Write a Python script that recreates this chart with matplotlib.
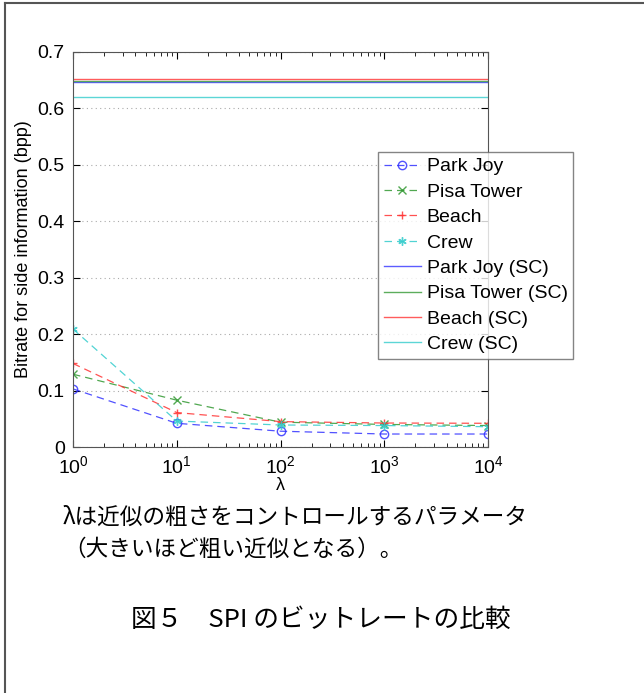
import matplotlib.pyplot as plt
from matplotlib.lines import Line2D

plt.rcParams['font.family'] = ['Liberation Sans', 'DejaVu Sans']

# dados
lam = [1, 10, 100, 1000, 10000]
park_joy = [0.103, 0.042, 0.028, 0.023, 0.023]
pisa_tower = [0.129, 0.083, 0.044, 0.040, 0.038]
beach = [0.148, 0.061, 0.045, 0.0425, 0.042]
crew = [0.209, 0.046, 0.039, 0.038, 0.036]

sc_names = ['Park Joy (SC)', 'Pisa Tower (SC)', 'Beach (SC)', 'Crew (SC)']
sc_values = [0.647, 0.648, 0.653, 0.621]

names = ['Park Joy', 'Pisa Tower', 'Beach', 'Crew']
series = [park_joy, pisa_tower, beach, crew]
colors = ['#3333ff', '#339933', '#ff3333', '#33cccc']
markers = ['o', 'x', '+', (6, 2, 0)]

yticks = [0, 0.1, 0.2, 0.3, 0.4, 0.5, 0.6, 0.7]

fig = plt.figure(figsize=(6.44, 6.93), dpi=100)
ax = fig.add_axes([73 / 644, 1 - 447 / 693, 415 / 644, 395 / 693])

for name, vals, c, m in zip(names, series, colors, markers):
    ax.plot(lam, vals, linestyle=(0, (6, 4)), color=c, marker=m, markersize=6,
            markerfacecolor='none', markeredgecolor=c, linewidth=0.9,
            alpha=0.85, label=name)

for name, v, c in zip(sc_names, sc_values, colors):
    ax.plot([lam[0], lam[-1]], [v, v], color=c, linewidth=1.0, alpha=0.8, label=name)

ax.set_xscale('log')
ax.set_xlim(1, 10000)
ax.set_ylim(0, 0.7)
ax.set_yticks(yticks)
ax.set_yticklabels(['0', '0.1', '0.2', '0.3', '0.4', '0.5', '0.6', '0.7'])
ax.yaxis.grid(True, linestyle=(0, (1, 3)), color='#aaaaaa', linewidth=0.8)
ax.tick_params(which='both', direction='in', top=True, right=True, labelsize=14)
ax.tick_params(which='major', length=5)
ax.tick_params(which='minor', length=3)
ax.tick_params(axis='y', pad=6)
ax.tick_params(axis='x', pad=6)
for s in ax.spines.values():
    s.set_color('#555555')

ax.set_xlabel('λ', fontsize=13, labelpad=0)
ax.set_ylabel('Bitrate for side information (bpp)', fontsize=13, labelpad=4)

leg = ax.legend(loc='upper left', bbox_to_anchor=((378 - 73) / 415, (447 - 152) / 395),
                borderaxespad=0, fontsize=14, frameon=True, fancybox=False,
                borderpad=0.3, labelspacing=0.4, handlelength=1.9, handletextpad=0.3)
leg.get_frame().set_edgecolor('#666666')
leg.get_frame().set_linewidth(1.0)

# moldura da figura (esquerda e topo)
fig.add_artist(Line2D([5 / 644, 5 / 644], [0, 1 - 3 / 693], color='#555555', linewidth=1.5))
fig.add_artist(Line2D([5 / 644, 1], [1 - 3 / 693, 1 - 3 / 693], color='#555555', linewidth=1.5))

jp = ['Noto Sans CJK JP', 'DejaVu Sans']
fig.text(63 / 644, 1 - 517 / 693, 'λは近似の粗さをコントロールするパラメータ', family=jp,
         fontsize=16.3, va='center', ha='left')
fig.text(63 / 644, 1 - 549 / 693, '（大きいほど粗い近似となる）。', family=jp,
         fontsize=16.3, va='center', ha='left')
fig.text(321 / 644, 1 - 620 / 693, '図５　SPI のビットレートの比較', family=jp,
         fontsize=18.5, va='center', ha='center')

fig.savefig('out.png', dpi=100)
